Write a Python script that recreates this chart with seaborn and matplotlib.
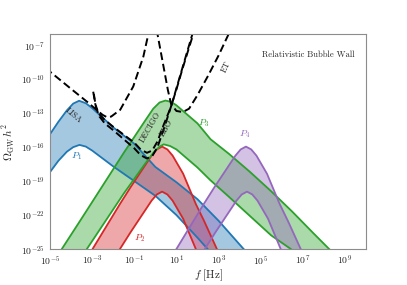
import numpy as np
import matplotlib
matplotlib.use("Agg")
import matplotlib.pyplot as plt
import seaborn as sns

# log10(f / Hz) and log10(Omega h^2)
p1_hi_f = [-5.3, -5.0, -4.6, -4.2, -3.9, -3.62, -3.3, -3.0, -2.5, -2.0, -1.0, 0.0, 1.0, 2.0, 3.0, 4.19, 5.0]
p1_hi_o = [-15.8, -14.85, -13.75, -12.75, -12.15, -11.9, -12.12, -12.55, -13.4, -14.25, -15.7, -17.75, -19.1, -20.6, -22.5, -25.0, -26.4]
p1_lo_f = [-5.3, -5.0, -4.6, -4.2, -3.9, -3.6, -3.3, -3.0, -2.5, -2.0, -1.0, 0.0, 1.0, 2.0, 2.48, 3.0]
p1_lo_o = [-19.0, -18.2, -17.2, -16.4, -16.0, -15.8, -15.95, -16.3, -17.0, -17.7, -19.0, -20.3, -22.0, -24.0, -25.0, -26.1]

p2_hi_f = [-4.18, -2.98, -2.18, -1.68, -1.18, -0.68, -0.18, 0.07, 0.32, 0.57, 0.82, 1.32, 1.92, 2.32, 2.92, 3.82]
p2_hi_o = [-28.65, -25.0, -22.55, -21.02, -19.55, -18.15, -16.75, -16.2, -15.95, -16.2, -16.75, -18.35, -21.02, -22.55, -25.0, -28.55]
p2_lo_f = [-2.2, -1.68, -1.18, -0.68, -0.18, 0.07, 0.32, 0.57, 0.82, 1.32, 1.92, 2.32]
p2_lo_o = [-26.6, -25.0, -23.53, -22.13, -20.73, -20.18, -19.93, -20.18, -20.73, -22.33, -25.0, -26.53]

p3_hi_f = [-5.0, -4.44, -3.5, -2.5, -1.5, -1.0, -0.5, -0.1, 0.2, 0.48, 0.75, 1.0, 1.5, 2.0, 2.62, 3.5, 4.5, 5.5, 6.5, 7.5, 8.25, 9.0]
p3_hi_o = [-26.7, -25.0, -22.3, -19.4, -16.5, -15.1, -13.7, -12.6, -12.05, -11.88, -12.0, -12.3, -13.1, -13.9, -15.3, -16.6, -18.2, -19.9, -21.7, -23.6, -25.0, -26.4]
p3_lo_f = [-3.8, -3.25, -2.5, -1.5, -1.0, -0.5, -0.1, 0.2, 0.4, 0.7, 1.0, 1.5, 2.0, 2.6, 3.5, 4.5, 5.5, 6.43, 7.0]
p3_lo_o = [-26.6, -25.0, -22.9, -20.1, -18.8, -17.5, -16.5, -15.95, -15.75, -15.9, -16.2, -17.0, -17.8, -18.9, -20.4, -22.1, -23.8, -25.0, -26.0]

p4_hi_f = [-0.2, 1.0, 1.8, 2.3, 2.8, 3.3, 3.8, 4.05, 4.3, 4.55, 4.8, 5.3, 5.9, 6.3, 6.9, 7.8]
p4_hi_o = [-28.65, -25.0, -22.55, -21.02, -19.55, -18.15, -16.75, -16.2, -15.95, -16.2, -16.75, -18.35, -21.02, -22.55, -25.0, -28.55]
p4_lo_f = [1.83, 2.35, 2.85, 3.35, 3.85, 4.1, 4.35, 4.6, 4.85, 5.35, 5.95, 6.35]
p4_lo_o = [-26.6, -25.0, -23.53, -22.13, -20.73, -20.18, -19.93, -20.18, -20.73, -22.33, -25.0, -26.53]

# sensitivity curves
lisa_f = [-5.2, -5.0, -4.0, -3.2, -2.8, -2.5, -2.3, -2.1, -1.67, -1.05, -0.57, -0.32, -0.25]
lisa_o = [-9.0, -9.33, -10.85, -12.05, -12.7, -13.15, -13.35, -13.3, -12.7, -10.64, -8.0, -5.9, -5.4]
decigo_f = [-2.95, -2.85, -2.7, -2.4, -2.0, -1.5, -1.0, -0.7, -0.4, -0.15, 0.1, 0.4, 0.75, 1.0, 1.3, 1.76, 1.85]
decigo_o = [-11.1, -12.2, -13.0, -13.6, -14.2, -14.9, -15.6, -16.2, -16.5, -16.3, -15.5, -14.0, -12.4, -10.8, -8.9, -6.0, -5.4]
bbo_f = [-2.92, -2.82, -2.65, -2.4, -2.0, -1.5, -1.0, -0.7, -0.4, -0.15, 0.1, 0.4, 0.72, 1.0, 1.3, 1.8, 1.9]
bbo_o = [-11.3, -12.5, -13.3, -13.9, -14.5, -15.3, -16.1, -16.7, -17.0, -16.8, -16.0, -14.4, -12.55, -10.9, -9.0, -6.0, -5.4]
et_f = [0.05, 0.1, 0.4, 0.6, 0.75, 1.0, 1.3, 1.6, 2.0, 2.5, 3.0, 3.48, 3.55]
et_o = [-5.6, -6.0, -9.0, -11.0, -12.2, -12.8, -12.9, -12.6, -11.4, -9.7, -7.9, -6.0, -5.6]

bands = [
    (p1_hi_f, p1_hi_o, p1_lo_f, p1_lo_o, "tab:blue"),
    (p2_hi_f, p2_hi_o, p2_lo_f, p2_lo_o, "tab:red"),
    (p3_hi_f, p3_hi_o, p3_lo_f, p3_lo_o, "tab:green"),
    (p4_hi_f, p4_hi_o, p4_lo_f, p4_lo_o, "tab:purple"),
]
dashed = [(lisa_f, lisa_o), (decigo_f, decigo_o), (bbo_f, bbo_o), (et_f, et_o)]

sns.set_style("white")
plt.rcParams["font.family"] = "serif"
plt.rcParams["font.serif"] = ["cmr10", "DejaVu Serif"]
plt.rcParams["mathtext.fontset"] = "cm"
plt.rcParams["axes.formatter.use_mathtext"] = True

fig = plt.figure(figsize=(4.07, 2.85), dpi=100)
ax = fig.add_axes([0.1229, 0.1263, 0.7764, 0.7544])

for hf, ho, lf, lo, c in bands:
    hf, ho, lf, lo = (10 ** np.array(v) for v in (hf, ho, lf, lo))
    ax.fill(np.concatenate([hf, lf[::-1]]), np.concatenate([ho, lo[::-1]]),
            color=c, alpha=0.4, lw=0)
    sns.lineplot(x=hf, y=ho, color=c, lw=1.3, ax=ax, sort=False)
    sns.lineplot(x=lf, y=lo, color=c, lw=1.3, ax=ax, sort=False)

for xf, yo in dashed:
    sns.lineplot(x=10 ** np.array(xf), y=10 ** np.array(yo), color="k",
                 lw=1.4, ls=(0, (4, 2)), ax=ax, sort=False)

ax.set_xscale("log")
ax.set_yscale("log")
ax.set_xlim(1e-5, 1e10)
ax.set_ylim(1e-25, 1e-6)
ax.set_xticks([10.0 ** k for k in range(-5, 10, 2)])
ax.set_yticks([10.0 ** k for k in range(-25, -6, 3)])
ax.minorticks_off()
ax.tick_params(labelsize=7, length=2, width=0.6, pad=1.5)
for s in ax.spines.values():
    s.set_color("0.55")
    s.set_linewidth(0.8)

ax.set_xlabel(r"$f\ [\mathrm{Hz}]$", fontsize=8)
ax.set_ylabel(r"$\Omega_{\rm GW}\,h^2$", fontsize=8)
ax.xaxis.set_label_coords(0.5, -0.088)
ax.yaxis.set_label_coords(-0.105, 0.5)

kw = dict(transform=ax.transAxes, ha="center", va="center")
ax.text(0.073, 0.619, "LISA", fontsize=6, rotation=-40, **kw)
ax.text(0.316, 0.567, "DECIGO", fontsize=6, rotation=60, **kw)
ax.text(0.367, 0.563, "BBO", fontsize=6, rotation=60, **kw)
ax.text(0.557, 0.847, "ET", fontsize=6, rotation=65, **kw)
ax.text(0.965, 0.902, "Relativistic Bubble Wall", fontsize=6.2,
        transform=ax.transAxes, ha="right", va="center")
ax.text(0.085, 0.433, r"$P_1$", fontsize=7, color="tab:blue", **kw)
ax.text(0.285, 0.051, r"$P_2$", fontsize=7, color="tab:red", **kw)
ax.text(0.487, 0.586, r"$P_3$", fontsize=7, color="tab:green", **kw)
ax.text(0.617, 0.535, r"$P_4$", fontsize=7, color="tab:purple", **kw)

fig.savefig("out.png", dpi=100)
